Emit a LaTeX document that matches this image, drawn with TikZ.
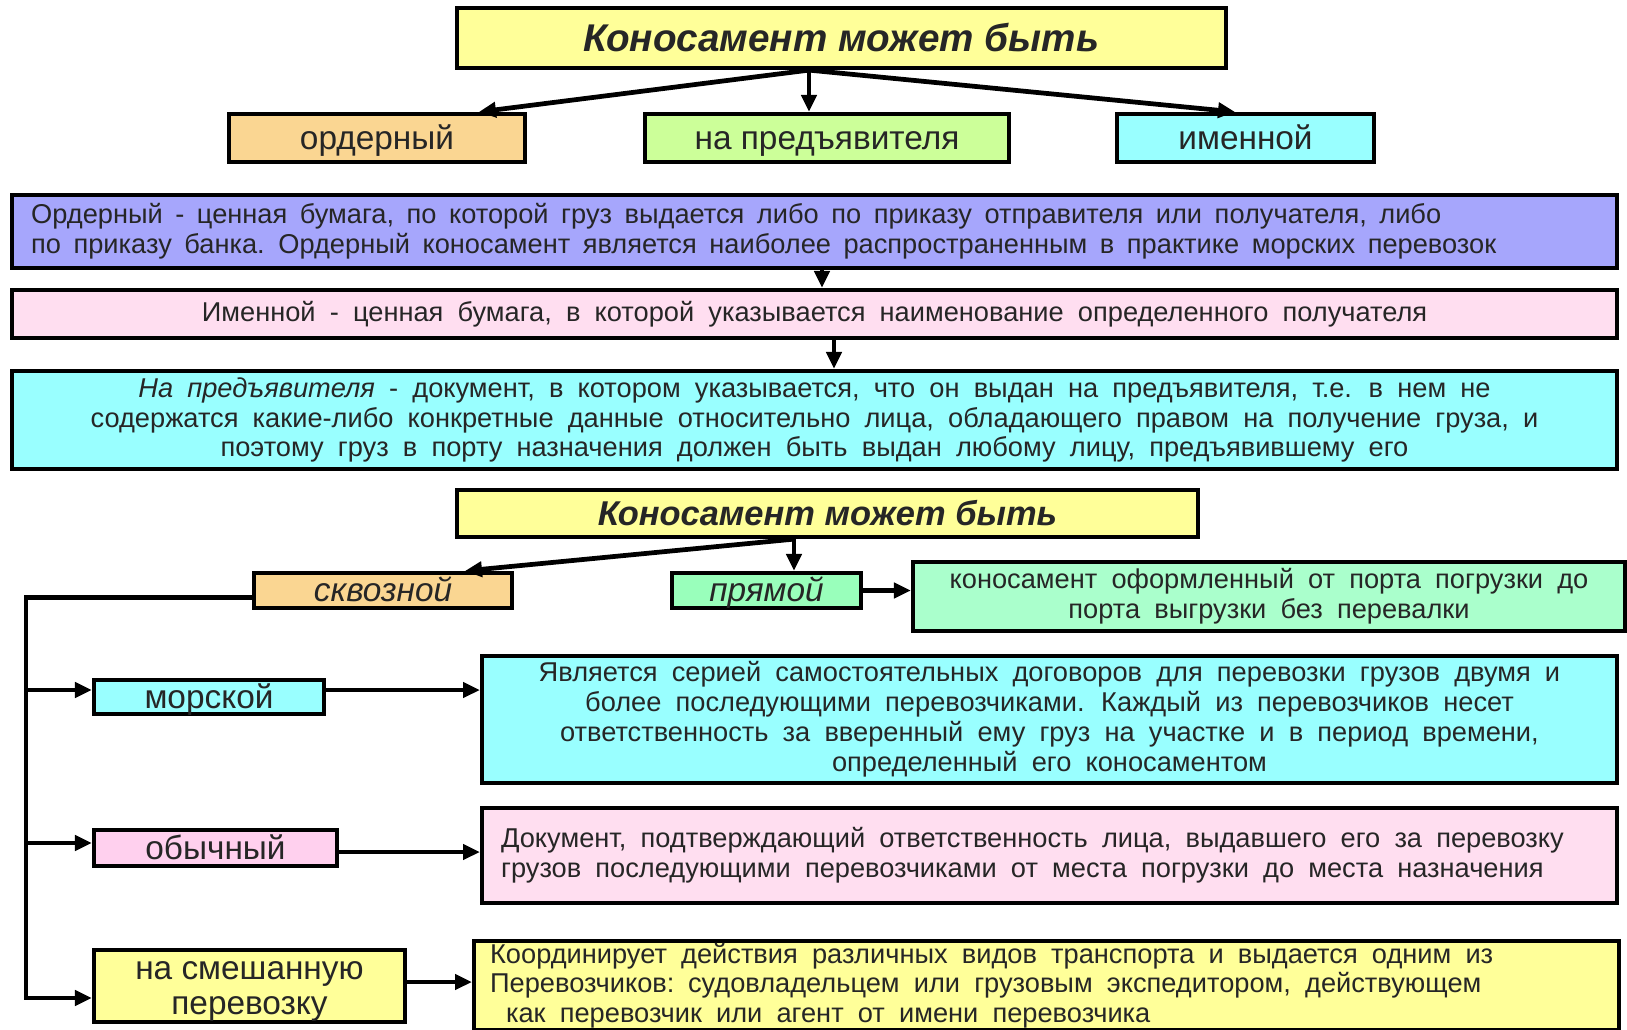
\documentclass[tikz,border=0pt]{standalone}
\usepackage{fontspec}
\setmainfont{Liberation Sans}
\usetikzlibrary{arrows.meta, positioning}

\definecolor{ttlyellow}{RGB}{255,255,153}
\definecolor{peach}{RGB}{250,214,146}
\definecolor{lgreen}{RGB}{204,255,153}
\definecolor{lcyan}{RGB}{153,255,255}
\definecolor{lavender}{RGB}{166,166,252}
\definecolor{lpink}{RGB}{255,222,240}
\definecolor{mint}{RGB}{153,255,187}
\definecolor{lmint}{RGB}{170,255,204}
\definecolor{mpink}{RGB}{255,208,238}

\newcommand{\ttlfont}{\fontsize{22}{24}\selectfont\bfseries\itshape}
\newcommand{\lblfont}{\fontsize{19}{20}\selectfont}
\newcommand{\dscfont}{\fontsize{15.5}{17}\selectfont}

\begin{document}
\begin{tikzpicture}[x=0.02cm, y=-0.02cm, every node/.style={text=black!85}]
\tikzstyle{box} = [rectangle, draw=black, line width=2.4pt, inner sep=0pt]
\tikzstyle{title} = [box, fill=ttlyellow, font=\ttlfont]
\tikzstyle{kind} = [box, font=\lblfont, text height=15.5pt, text depth=2.5pt]
\tikzstyle{descr} = [box, font=\dscfont, align=center, execute at begin node={\spaceskip=0.52em\relax}]
\tikzstyle{arr} = [-{Triangle[length=0.34cm,width=0.3cm]}, line width=2.7pt]

\useasboundingbox (0,0) rectangle (1627,1029);
\clip (0,0) rectangle (1627,1029);

% upper scheme
\node[title, minimum width=15.38cm, minimum height=1.2cm] (t1) at (841.5,38) {Коносамент может быть};
\node[kind, fill=peach, minimum width=5.92cm, minimum height=0.96cm] (ord) at (377,138) {ордерный};
\node[kind, fill=lgreen, minimum width=7.28cm, minimum height=0.96cm] (pred) at (827,138) {на предъявителя};
\node[kind, fill=lcyan, minimum width=5.14cm, minimum height=0.96cm] (imen) at (1245.5,138) {именной};

\node[descr, fill=lavender, align=left, text width=31.34cm, inner xsep=0.38cm, minimum height=1.46cm,
      execute at begin node={\spaceskip=0.46em\relax}] (dOrd) at (814.5,231.5)
  {Ордерный - ценная бумага, по которой груз выдается либо по приказу отправителя или получателя, либо\\
   по приказу банка. Ордерный коносамент является наиболее распространенным в практике морских перевозок};
\node[descr, fill=lpink, minimum width=32.1cm, minimum height=0.96cm] (dImen) at (814.5,314)
  {Именной - ценная бумага, в которой указывается наименование определенного получателя};
\node[descr, fill=lcyan, minimum width=32.1cm, minimum height=1.96cm] (dPred) at (814.5,420)
  {\textit{На предъявителя} - документ, в котором указывается, что он выдан на предъявителя, т.е. в нем не\\
   содержатся какие-либо конкретные данные относительно лица, обладающего правом на получение груза, и\\
   поэтому груз в порту назначения должен быть выдан любому лицу, предъявившему его};

\draw[arr] ([xshift=-0.65cm]t1.south) -- ([xshift=2.04cm]ord.north);
\draw[arr] ([xshift=-0.65cm]t1.south) -- ([xshift=-0.65cm]t1.south |- pred.north);
\draw[arr] ([xshift=-0.65cm]t1.south) -- ([xshift=-0.21cm]imen.north);
\draw[arr] ([xshift=0.15cm]dOrd.south) -- ([xshift=0.15cm]dImen.north);
\draw[arr] ([xshift=0.39cm]dImen.south) -- ([xshift=0.39cm]dPred.north);

% lower scheme
\node[title, font=\fontsize{19.6}{22}\selectfont\bfseries\itshape, minimum width=14.82cm, minimum height=0.94cm] (t2) at (827.5,513.5) {Коносамент может быть};
\node[kind, fill=peach, font=\lblfont\itshape, minimum width=5.16cm, minimum height=0.7cm] (skv) at (383,590.5) {сквозной};
\node[kind, fill=mint, font=\lblfont\itshape, minimum width=3.78cm, minimum height=0.7cm] (pryam) at (766.5,590.5) {прямой};
\node[descr, fill=lmint, minimum width=14.24cm, minimum height=1.38cm] (dPryam) at (1269,596.5)
  {коносамент оформленный от порта погрузки до\\ порта выгрузки без перевалки};

\node[kind, fill=lcyan, minimum width=4.6cm, minimum height=0.68cm] (mor) at (209,697) {морской};
\node[descr, fill=lcyan, minimum width=22.7cm, minimum height=2.54cm] (dMor) at (1049.5,719.5)
  {Является серией самостоятельных договоров для перевозки грузов двумя и\\
   более последующими перевозчиками. Каждый из перевозчиков несет\\
   ответственность за вверенный ему груз на участке и в период времени,\\
   определенный его коносаментом};
\node[kind, fill=mpink, minimum width=4.86cm, minimum height=0.72cm] (obych) at (215.5,848) {обычный};
\node[descr, fill=lpink, align=left, text width=21.94cm, inner xsep=0.38cm, minimum height=1.9cm] (dObych) at (1049.5,855.5)
  {Документ, подтверждающий ответственность лица, выдавшего его за перевозку\\
   грузов последующими перевозчиками от места погрузки до места назначения};
\node[box, font=\lblfont, fill=ttlyellow, align=center, minimum width=6.22cm, minimum height=1.44cm] (smesh) at (249.5,986)
  {\rule{0pt}{16pt}на смешанную\\перевозку};
\node[descr, fill=ttlyellow, align=left, anchor=north west, text width=22.26cm, inner xsep=0.32cm, minimum height=1.78cm] (dSmesh) at (472,939)
  {Координирует действия различных видов транспорта и выдается одним из\\
   Перевозчиков: судовладельцем или грузовым экспедитором, действующем\\
   \hspace*{0.32cm}как перевозчик или агент от имени перевозчика};

\coordinate (trunk) at (26,998);

\draw[arr] ([xshift=-0.67cm]t2.south) -- ([xshift=1.64cm]skv.north);
\draw[arr] ([xshift=-0.67cm]t2.south) -- ([xshift=-0.67cm]t2.south |- pryam.north);
\draw[arr] (pryam.east) -- (pryam.east -| dPryam.west);
\draw[arr] ([yshift=-0.14cm]skv.west) -| (trunk) -- (trunk -| smesh.west);
\draw[arr] ([yshift=0.14cm]trunk |- mor.west) -- ([yshift=0.14cm]mor.west);
\draw[arr] ([yshift=0.1cm]trunk |- obych.west) -- ([yshift=0.1cm]obych.west);
\draw[arr] ([yshift=0.14cm]mor.east) -- ([yshift=0.14cm]mor.east -| dMor.west);
\draw[arr] ([yshift=-0.08cm]obych.east) -- ([yshift=-0.08cm]obych.east -| dObych.west);
\draw[arr] ([yshift=0.08cm]smesh.east) -- ([yshift=0.08cm]smesh.east -| dSmesh.west);

\end{tikzpicture}
\end{document}
